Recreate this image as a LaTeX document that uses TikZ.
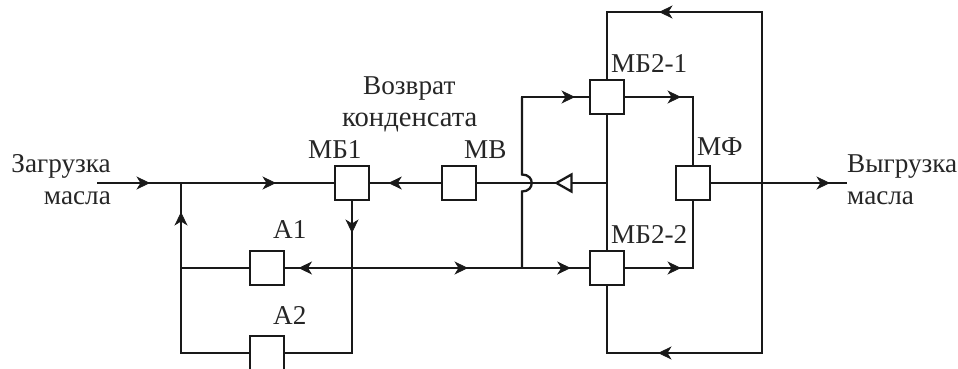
\documentclass[tikz,border=0pt]{standalone}
\usepackage{fontspec}
\setmainfont{Liberation Serif}
\usetikzlibrary{arrows.meta,decorations.markings,shapes.geometric}
\tikzset{
  ln/.style={line width=2.3pt,draw=black!90},
  unit/.style={ln,draw,fill=white,minimum size=34pt,inner sep=0pt,outer sep=0pt},
  tag/.style={anchor=base west,inner sep=0pt,font=\fontsize{27.2pt}{30pt}\selectfont,text=black!85},
  tagr/.style={tag,anchor=base east},
  tipat/.style={postaction={decorate,decoration={markings,mark=at position #1pt with {\arrow[line width=0.8pt]{Stealth[length=13.5pt,width=13pt,inset=4pt]}}}}}
}
\begin{document}
\begin{tikzpicture}[x=1pt,y=-1pt]
\path[use as bounding box] (0,0) rectangle (958,369);
\clip (0,0) rectangle (958,369);
% units
\node[unit] (mb1) at (352,183) {};
\node[unit] (mv) at (459,183) {};
\node[unit] (a1) at (267,268) {};
\node[unit] (a2) at (267,353) {};
\node[unit] (mb21) at (607,97) {};
\node[unit] (mb22) at (607,268) {};
\node[unit] (mf) at (693,183) {};
\node[isosceles triangle,isosceles triangle stretches,shape border rotate=180,ln,draw,fill=white,minimum height=15pt,minimum width=17pt,inner sep=0pt,outer sep=0pt] (tri) at (566.5,183) {};
% junctions
\coordinate (in) at (97,183);
\coordinate (out) at (847,183);
\coordinate (j1) at (181,183);
\coordinate (j2) at (181,268);
\coordinate (c1) at (181,353);
\coordinate (c2) at (352,353);
\coordinate (x1) at (352,268);
\coordinate (j3) at (522,268);
\coordinate (h1) at (522,191.5);
\coordinate (h2) at (522,174.5);
\coordinate (c3) at (522,97);
\coordinate (c4) at (693,97);
\coordinate (c5) at (693,268);
\coordinate (c6) at (607,12);
\coordinate (c7) at (762,12);
\coordinate (c8) at (762,353);
\coordinate (c9) at (607,353);
\coordinate (j5) at (607,183);
% connectors
\draw[ln,tipat=53] (in) -- (j1);
\draw[ln,tipat=95] (j1) -- (mb1.west);
\draw[ln,tipat=53.7] (mv.west) -- (mb1.east);
\draw[ln,tipat=33] (mb1.south) -- (c2);
\draw[ln,line cap=rect] (c2) -- (a2.east);
\draw[ln,line cap=rect] (a2.west) -- (c1);
\draw[ln,tipat=141,line cap=rect] (c1) -- (j1);
\draw[ln] (a1.west) -- (j2);
\draw[ln,tipat=53.5] (x1) -- (a1.east);
\draw[ln,tipat=116] (x1) -- (j3);
\draw[ln,tipat=48.7] (j3) -- (mb22.west);
\draw[ln] (j3) -- (h1) .. controls (535,191.5) and (535,174.5) .. (h2) -- (c3);
\draw[ln,tipat=53,line cap=rect] (c3) -- (mb21.west);
\draw[ln,tipat=57,line cap=rect] (mb21.east) -- (c4);
\draw[ln] (c4) -- (mf.north);
\draw[ln,tipat=57,line cap=rect] (mb22.east) -- (c5);
\draw[ln] (c5) -- (mf.south);
\draw[ln] (mb21.south) -- (mb22.north);
\draw[ln] (j5) -- (tri.lower side);
\draw[ln] (tri.apex) -- (mv.east);
\draw[ln,tipat=103,line cap=rect] (c7) -- (c6);
\draw[ln,line cap=rect] (c6) -- (mb21.north);
\draw[ln,tipat=104,line cap=rect] (c8) -- (c9);
\draw[ln,line cap=rect] (c9) -- (mb22.south);
\draw[ln,line width=1.8pt,line cap=rect] (c7) -- (c8);
\draw[ln,tipat=120] (mf.east) -- (out);
% labels
\node[tagr] (t1) at (111,172) {Загрузка};
\node[tagr] (t2) at (111,204) {масла};
\node[tag] (t3) at (847,172) {Выгрузка};
\node[tag] (t4) at (847,204) {масла};
\node[tag] (t5) at (363,94) {Возврат};
\node[tag,font=\fontsize{28.6pt}{30pt}\selectfont] (t6) at (342,126) {конденсата};
\node[tag] (t7) at (308,158) {МБ1};
\node[tag] (t8) at (464,158) {МВ};
\node[tag] (t9) at (273,238) {А1};
\node[tag] (t10) at (273,324) {А2};
\node[tag] (t11) at (611,72) {МБ2-1};
\node[tag] (t12) at (697,155) {МФ};
\node[tag] (t13) at (611,243) {МБ2-2};
\end{tikzpicture}
\end{document}
